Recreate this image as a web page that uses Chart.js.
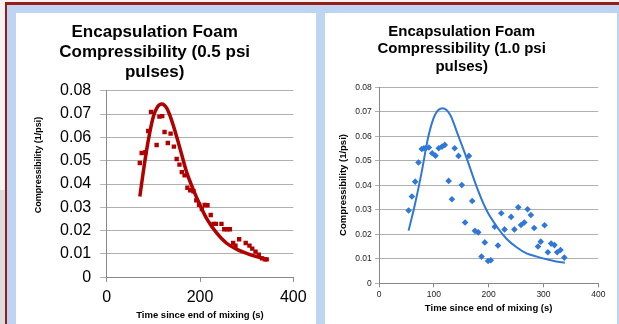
<!DOCTYPE html>
<html>
<head>
<meta charset="utf-8">
<script src="https://cdn.jsdelivr.net/npm/chart.js@4/dist/chart.umd.min.js"></script>
<style>
  body { margin: 0; background: #f5f3f0; width: 619px; height: 324px; overflow: hidden; position: relative; }
  .grey { position: absolute; left: 0; top: 190px; width: 6px; height: 134px; background: #dcdcdc; }
  .frame { position: absolute; left: 5px; top: 2px; width: 614px; height: 322px; background: #9b1b1b; }
  .blue { position: absolute; left: 7px; top: 5px; width: 612px; height: 319px; background: #bdd5f3; }
  .panel { position: absolute; top: 13px; background: #fff; }
  #p1 { left: 16px; width: 300px; height: 311px; }
  #p2 { left: 325px; width: 292px; height: 311px; }
</style>
</head>
<body>
<div class="grey"></div>
<div class="frame"></div>
<div class="blue"></div>
<div class="panel" id="p1"><canvas id="c1" width="300" height="311"></canvas></div>
<div class="panel" id="p2"><canvas id="c2" width="292" height="311"></canvas></div>
<script>
// 0.5 psi pulses: measured points
var halfT = [71, 75, 83, 89, 95, 107, 113, 119, 124, 131, 137, 144, 150, 156, 161, 167, 173, 179, 186, 192, 198, 204, 210, 216, 223, 229, 234, 246, 252, 258, 264, 271, 276, 284, 298, 306, 312, 319, 326, 333, 339, 343];
var halfV = [0.049, 0.0533, 0.0536, 0.0627, 0.0709, 0.0567, 0.0689, 0.0691, 0.0623, 0.0576, 0.0616, 0.056, 0.0507, 0.0483, 0.0451, 0.0437, 0.0384, 0.0373, 0.0369, 0.033, 0.0311, 0.0293, 0.031, 0.0309, 0.0267, 0.0229, 0.0229, 0.0229, 0.0206, 0.0206, 0.0206, 0.0147, 0.0136, 0.0163, 0.0147, 0.0136, 0.0123, 0.011, 0.0097, 0.0081, 0.0077, 0.0077];
// 0.5 psi pulses: fitted curve
var halfFitT = [71, 79, 88, 100, 109, 118, 129, 139, 150, 161, 171, 186, 200, 214, 236, 257, 279, 300, 321, 343];
var halfFitV = [0.0346, 0.046, 0.0574, 0.0689, 0.0731, 0.0743, 0.0724, 0.0674, 0.0603, 0.0524, 0.0453, 0.0374, 0.031, 0.0253, 0.0189, 0.0146, 0.012, 0.0103, 0.0089, 0.0077];

// 1.0 psi pulses: measured points
var oneT = [54, 60, 66, 72, 78, 82, 85, 91, 97, 103, 109, 115, 120, 127, 133, 138, 145, 151, 157, 164, 170, 175, 181, 187, 193, 199, 204, 211, 217, 223, 229, 241, 247, 254, 259, 265, 271, 277, 283, 290, 295, 302, 308, 314, 320, 325, 331, 338];
var oneV = [0.0297, 0.0354, 0.0415, 0.0493, 0.0548, 0.0551, 0.0551, 0.0554, 0.0531, 0.0521, 0.0551, 0.0558, 0.0565, 0.0418, 0.0343, 0.0551, 0.052, 0.0401, 0.0248, 0.052, 0.0336, 0.0214, 0.0208, 0.0109, 0.0167, 0.0091, 0.0094, 0.0231, 0.0154, 0.0286, 0.022, 0.0271, 0.022, 0.031, 0.0238, 0.0248, 0.0302, 0.0279, 0.0226, 0.015, 0.017, 0.0237, 0.0127, 0.0162, 0.0156, 0.0127, 0.0136, 0.0105];
// 1.0 psi pulses: fitted curve
var oneFitT = [54, 66, 78, 90, 102, 116, 130, 143, 160, 178, 196, 215, 233, 251, 269, 288, 306, 321, 339];
var oneFitV = [0.0215, 0.0327, 0.0456, 0.0599, 0.0687, 0.0714, 0.0687, 0.0612, 0.051, 0.0395, 0.0299, 0.0231, 0.0181, 0.0147, 0.0122, 0.0109, 0.0098, 0.009, 0.0084];

var xTitle = 'Time since end of mixing (s)';
var yTitle = 'Compressibility (1/psi)';

function pts(xs, ys) {
    return xs.map(function (x, i) { return { x: x, y: ys[i] }; });
}

Chart.defaults.font.family = "'Liberation Sans', Arial, sans-serif";
Chart.defaults.color = '#000';

// rotated y axis title drawn at a given spot
var yTitlePlugin = {
    id: 'yTitle',
    afterDraw: function (chart, args, opts) {
        var ctx = chart.ctx;
        ctx.save();
        ctx.translate(opts.x, opts.y);
        ctx.rotate(-Math.PI / 2);
        ctx.font = opts.font;
        ctx.fillStyle = '#000';
        ctx.textAlign = 'center';
        ctx.textBaseline = 'middle';
        ctx.fillText(opts.text, 0, 0);
        ctx.restore();
    }
};

new Chart(document.getElementById('c1'), {
    type: 'scatter',
    data: {
        datasets: [
            {
                data: pts(halfFitT, halfFitV),
                showLine: true,
                borderColor: '#b00000',
                borderWidth: 3.5,
                pointRadius: 0,
                cubicInterpolationMode: 'monotone'
            },
            {
                data: pts(halfT, halfV),
                pointStyle: 'rect',
                pointRadius: 3.1,
                backgroundColor: '#b00000',
                borderWidth: 0
            }
        ]
    },
    options: {
        responsive: false,
        animation: false,
        layout: { padding: { left: 0, right: 22.7, top: 0, bottom: 0 } },
        plugins: {
            legend: { display: false },
            tooltip: { enabled: false },
            title: {
                display: true,
                text: ['Encapsulation Foam', 'Compressibility (0.5 psi', 'pulses)'],
                font: { size: 17, weight: 'bold', lineHeight: 20 / 17 },
                color: '#000',
                padding: { top: 9, bottom: 8.7 }
            },
            yTitle: { text: yTitle, x: 22.5, y: 152, font: "bold 9px 'Liberation Sans', Arial, sans-serif" }
        },
        scales: {
            x: {
                type: 'linear', min: 0, max: 400,
                ticks: { stepSize: 200, font: { size: 16 }, padding: 6, maxRotation: 0, color: '#000' },
                grid: { drawOnChartArea: false, tickLength: 4.5, color: '#888' },
                border: { color: '#888' },
                title: { display: true, text: xTitle, font: { size: 9.5, weight: 'bold' }, padding: { top: 0, bottom: 2.6 } },
                afterFit: function (s) { s.height = 46.7; }
            },
            y: {
                min: 0, max: 0.08,
                ticks: { stepSize: 0.01, font: { size: 16 }, padding: 9, color: '#000' },
                grid: { color: '#b0b0b0', tickLength: 6.5 },
                border: { color: '#888' },
                afterFit: function (s) { s.width = 90.7; }
            }
        }
    },
    plugins: [yTitlePlugin]
});

new Chart(document.getElementById('c2'), {
    type: 'scatter',
    data: {
        datasets: [
            {
                data: pts(oneFitT, oneFitV),
                showLine: true,
                borderColor: '#2f78d8',
                borderWidth: 2,
                pointRadius: 0,
                cubicInterpolationMode: 'monotone'
            },
            {
                data: pts(oneT, oneV),
                pointStyle: 'rectRot',
                pointRadius: 3.3,
                backgroundColor: '#2f78d8',
                borderWidth: 0
            }
        ]
    },
    options: {
        responsive: false,
        animation: false,
        layout: { padding: { left: 0, right: 18.7, top: 0, bottom: 0 } },
        plugins: {
            legend: { display: false },
            tooltip: { enabled: false },
            title: {
                display: true,
                text: ['Encapsulation Foam', 'Compressibility (1.0 psi', 'pulses)'],
                font: { size: 15, weight: 'bold', lineHeight: 17.5 / 15 },
                color: '#000',
                padding: { top: 10, bottom: 11.8 }
            },
            yTitle: { text: yTitle, x: 18.7, y: 172, font: "bold 9.5px 'Liberation Sans', Arial, sans-serif" }
        },
        scales: {
            x: {
                type: 'linear', min: 0, max: 400,
                ticks: { stepSize: 100, font: { size: 8.5 }, padding: 2.6, maxRotation: 0, color: '#222' },
                grid: { drawOnChartArea: false, tickLength: 4, color: '#888' },
                border: { color: '#888' },
                title: { display: true, text: xTitle, font: { size: 9.5, weight: 'bold' }, padding: { top: 0, bottom: 10 } },
                afterFit: function (s) { s.height = 40.7; }
            },
            y: {
                min: 0, max: 0.08,
                ticks: { stepSize: 0.01, font: { size: 8.5 }, padding: 3.3, color: '#222' },
                grid: { color: '#b0b0b0', tickLength: 4 },
                border: { color: '#888' },
                afterFit: function (s) { s.width = 54; }
            }
        }
    },
    plugins: [yTitlePlugin]
});
</script>
</body>
</html>
